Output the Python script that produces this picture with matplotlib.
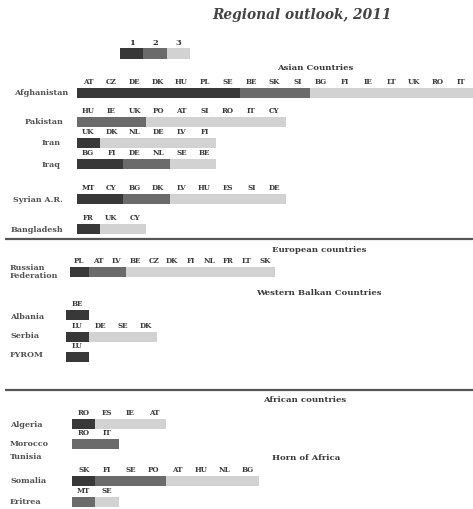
import matplotlib
matplotlib.use("Agg")
import matplotlib.pyplot as plt

# ---------------- data ----------------
title = "Regional outlook, 2011"
legend_labels = ["1", "2", "3"]

countries = ["Afghanistan", "Pakistan", "Iran", "Iraq", "Syrian A.R.", "Bangladesh",
             "Russian\nFederation",
             "Albania", "Serbia", "FYROM",
             "Algeria", "Morocco", "Tunisia",
             "Somalia", "Eritrea"]

codes = [
    ["AT", "CZ", "DE", "DK", "HU", "PL", "SE", "BE", "SK", "SI", "BG", "FI", "IE", "LT", "UK", "RO", "IT"],
    ["HU", "IE", "UK", "PO", "AT", "SI", "RO", "IT", "CY"],
    ["UK", "DK", "NL", "DE", "LV", "FI"],
    ["BG", "FI", "DE", "NL", "SE", "BE"],
    ["MT", "CY", "BG", "DK", "LV", "HU", "ES", "SI", "DE"],
    ["FR", "UK", "CY"],
    ["PL", "AT", "LV", "BE", "CZ", "DK", "FI", "NL", "FR", "LT", "SK"],
    ["BE"],
    ["LU", "DE", "SE", "DK"],
    ["LU"],
    ["RO", "ES", "IE", "AT"],
    ["RO", "IT"],
    [],
    ["SK", "FI", "SE", "PO", "AT", "HU", "NL", "BG"],
    ["MT", "SE"],
]

# number of countries in group 1, 2, 3 for each row
count_1 = [7, 0, 1, 2, 2, 1, 1, 1, 1, 1, 1, 0, 0, 1, 0]
count_2 = [3, 3, 0, 2, 2, 0, 2, 0, 0, 0, 0, 2, 0, 3, 1]
count_3 = [7, 6, 5, 2, 5, 2, 8, 0, 3, 0, 3, 0, 0, 4, 1]

sections = ["Asian Countries", "European countries", "Western Balkan Countries",
            "African countries", "Horn of Africa"]

# ---------------- layout (pixels) ----------------
W, H = 473, 509
row_y = [93, 122, 143, 164, 199, 229, 272, 315, 337, 357, 424, 444, 457, 481, 502]
label_y = [93, 122, 143, 165, 200, 230, 272, 317, 336, 355, 425, 444, 457, 481, 502]
label_x = [68, 63, 61, 60, 63, 63, 10, 10, 10, 10, 10, 10, 10, 10, 10]
label_ha = ["right"] * 6 + ["left"] * 9
start_x = [76.5] * 6 + [70] + [66] * 3 + [72] * 5
cell_w = [23.3] * 6 + [18.6] + [22.8] * 3 + [23.4] * 5
section_xy = [(315, 68), (319, 250), (319, 293), (305, 400), (306, 458)]
sep_lines = [238.5, 389.5]

colors = ["#383838", "#6b6b6b", "#d2d2d2"]
serif = ["DejaVu Serif"]

fig = plt.figure(figsize=(W / 100, H / 100), dpi=100)
ax = fig.add_axes([0, 0, 1, 1])
ax.set_xlim(0, W)
ax.set_ylim(H, 0)
ax.axis("off")

bar_h = 10.5

# title
ax.text(302, 15, title, ha="center", va="center", fontsize=9.9, fontweight="bold",
        style="italic", family=serif, color="#444444")

# legend
for i, lab in enumerate(legend_labels):
    x0 = 120 + i * 23.3
    ax.barh(53.5, 23.3, left=x0, height=10.5, color=colors[i], linewidth=0)
    ax.text(x0 + 11.65, 43, lab, ha="center", va="center", fontsize=6,
            fontweight="bold", family=serif, color="#333333")

# sections
for name, (sx, sy) in zip(sections, section_xy):
    ax.text(sx, sy, name, ha="center", va="center", fontsize=6.1, fontweight="bold",
            family=serif, color="#3a3a3a")

# separator lines
for yl in sep_lines:
    ax.plot([5, W], [yl, yl], color="#555555", linewidth=1.6, solid_capstyle="butt")

# rows
for r, name in enumerate(countries):
    ax.text(label_x[r], label_y[r], name, ha=label_ha[r], va="center", fontsize=5.8,
            fontweight="bold", family=serif, color="#505050", linespacing=1.1)
    groups = [0] * count_1[r] + [1] * count_2[r] + [2] * count_3[r]
    for c, g in enumerate(groups):
        left = start_x[r] + c * cell_w[r]
        ax.barh(row_y[r], cell_w[r], left=left, height=bar_h, color=colors[g], linewidth=0)
        ax.text(left + cell_w[r] / 2, row_y[r] - 11, codes[r][c], ha="center", va="center",
                fontsize=5.1, fontweight="bold", family=serif, color="#3a3a3a")

fig.savefig("out.png", dpi=100)
